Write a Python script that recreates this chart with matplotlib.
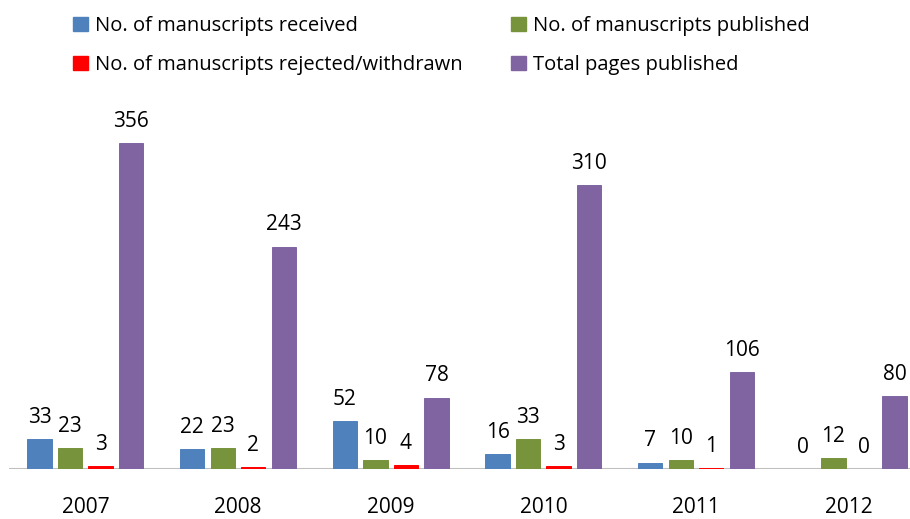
import matplotlib
matplotlib.use("Agg")
import matplotlib.pyplot as plt
from matplotlib.patches import Patch
import numpy as np

years = ["2007", "2008", "2009", "2010", "2011", "2012"]
received = [33, 22, 52, 16, 7, 0]
published = [23, 23, 10, 33, 10, 12]
rejected = [3, 2, 4, 3, 1, 0]
pages = [356, 243, 78, 310, 106, 80]

series_names = ["No. of manuscripts received", "No. of manuscripts published",
                "No. of manuscripts rejected/withdrawn", "Total pages published"]
colors = ["#4f81bd", "#77933c", "#ff0000", "#8064a2"]

plt.rcParams['font.family'] = ['Open Sans', 'DejaVu Sans']

W, H = 910, 519
fig = plt.figure(figsize=(W / 100, H / 100), dpi=100)
ax_left, ax_right = 9, 925
ax_bottom, ax_top = 469, 90
ax = fig.add_axes([ax_left / W, (H - ax_bottom) / H, (ax_right - ax_left) / W, (ax_bottom - ax_top) / H])

x = np.arange(len(years))
step = 0.2
width = 0.16
all_series = [received, published, rejected, pages]
for i, (vals, c) in enumerate(zip(all_series, colors)):
    pos = x + (i - 1.5) * step
    ax.bar(pos, vals, width=width, color=c, edgecolor=c, linewidth=0.7, zorder=3)
    for px, v in zip(pos, vals):
        ax.annotate(str(v), (px, v), xytext=(0, 8), textcoords="offset points",
                    ha="center", va="bottom", fontsize=15, color="#000000")

ax.set_xlim(-0.5, 5.5)
ax.set_ylim(0, 414)
ax.axhline(0, color="#bfbfbf", lw=1.5, zorder=1)
for s in ax.spines.values():
    s.set_visible(False)
ax.set_yticks([])
ax.set_xticks(x)
ax.set_xticklabels(years, fontsize=15)
ax.tick_params(axis="x", length=0, pad=20)

handles = [Patch(color=colors[0]), Patch(color=colors[2]), Patch(color=colors[1]), Patch(color=colors[3])]
labels = [series_names[0], series_names[2], series_names[1], series_names[3]]
fig.legend(handles, labels, ncol=2, loc="upper left", bbox_to_anchor=(73 / W, 1 - 16 / H),
           frameon=False, fontsize=14.5, handlelength=0.75, handleheight=0.75, handletextpad=0.35,
           columnspacing=2.4, labelspacing=0.95, borderpad=0, borderaxespad=0)

fig.savefig("out.png", dpi=100)
